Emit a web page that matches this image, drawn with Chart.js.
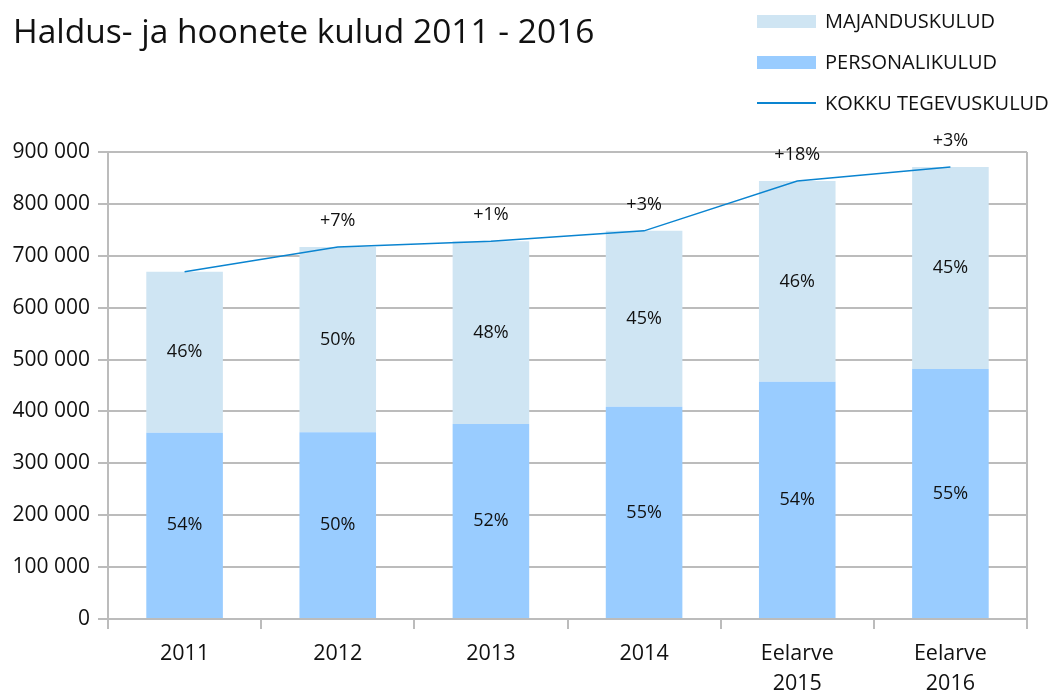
<!DOCTYPE html>
<html>
<head>
<meta charset="utf-8">
<script src="https://cdn.jsdelivr.net/npm/chart.js@4/dist/chart.umd.min.js"></script>
<style>
  html, body { margin: 0; padding: 0; background: #fff; }
  #wrap { position: relative; width: 1055px; height: 693px; font-family: "Open Sans", sans-serif; color: #111; }
  #title { position: absolute; left: 13px; top: 8px; font-size: 33.5px; line-height: 44px; white-space: nowrap; }
  #legend { position: absolute; left: 757px; top: 0; }
  .li { position: absolute; left: 0; height: 30px; white-space: nowrap; }
  .sw { position: absolute; left: 0; width: 59px; }
  .lt { position: absolute; left: 68px; top: 0; font-size: 20px; line-height: 30px; }
  canvas { position: absolute; left: 0; top: 0; }
</style>
</head>
<body>
<div id="wrap">
  <canvas id="c" width="1055" height="693"></canvas>
  <div id="title">Haldus- ja hoonete kulud 2011 - 2016</div>
  <div id="legend">
    <div class="li" style="top:6px"><div class="sw" style="top:9px;height:13px;background:#cfe5f3"></div><div class="lt">MAJANDUSKULUD</div></div>
    <div class="li" style="top:47px"><div class="sw" style="top:9px;height:13px;background:#99ccff"></div><div class="lt">PERSONALIKULUD</div></div>
    <div class="li" style="top:88px"><div class="sw" style="top:14px;height:2px;background:#0a84d0"></div><div class="lt">KOKKU TEGEVUSKULUD</div></div>
  </div>
</div>
<script>
const categories = [["2011"], ["2012"], ["2013"], ["2014"], ["Eelarve", "2015"], ["Eelarve", "2016"]];
const personalikulud = [359000, 360000, 376000, 409000, 457000, 482000];
const majanduskulud = [310000, 357000, 352000, 339000, 387000, 389000];
const kokku = [669000, 717000, 728000, 748000, 844000, 871000];
const personalPct = ["54%", "50%", "52%", "55%", "54%", "55%"];
const majandusPct = ["46%", "50%", "48%", "45%", "46%", "45%"];
const growthLabels = ["", "+7%", "+1%", "+3%", "+18%", "+3%"];
const yTicks = [0, 100000, 200000, 300000, 400000, 500000, 600000, 700000, 800000, 900000];

const FONT = '"Open Sans", sans-serif';
const GRID = '#bcbcbc';

const labelPlugin = {
  id: 'labels',
  afterDatasetsDraw(chart) {
    const ctx = chart.ctx;
    ctx.save();
    ctx.fillStyle = '#111';
    ctx.font = '18px ' + FONT;
    ctx.textAlign = 'center';
    ctx.textBaseline = 'middle';
    const drawBar = (dsIndex, labels) => {
      chart.getDatasetMeta(dsIndex).data.forEach((el, i) => {
        const p = el.getProps(['x', 'y', 'base'], true);
        ctx.fillText(labels[i], p.x, (p.y + p.base) / 2);
      });
    };
    drawBar(0, personalPct);
    drawBar(1, majandusPct);
    chart.getDatasetMeta(2).data.forEach((el, i) => {
      if (!growthLabels[i]) return;
      const p = el.getProps(['x', 'y'], true);
      ctx.fillText(growthLabels[i], p.x, p.y - 26);
    });
    ctx.restore();
  },
  beforeDatasetsDraw(chart) {
    const { ctx, chartArea } = chart;
    ctx.save();
    ctx.strokeStyle = GRID;
    ctx.lineWidth = 2;
    ctx.beginPath();
    ctx.moveTo(chartArea.right, chartArea.top);
    ctx.lineTo(chartArea.right, chartArea.bottom);
    ctx.stroke();
    ctx.restore();
  }
};

new Chart(document.getElementById('c'), {
  type: 'bar',
  data: {
    labels: categories,
    datasets: [
      { label: 'PERSONALIKULUD', data: personalikulud, backgroundColor: '#99ccff', order: 1, stack: 'bars', barPercentage: 0.5, categoryPercentage: 1 },
      { label: 'MAJANDUSKULUD', data: majanduskulud, backgroundColor: '#cfe5f3', order: 1, stack: 'bars', barPercentage: 0.5, categoryPercentage: 1 },
      { type: 'line', label: 'KOKKU TEGEVUSKULUD', data: kokku, borderColor: '#0a84d0', borderWidth: 1.5, pointRadius: 0, tension: 0, fill: false, order: 0, stack: 'line' }
    ]
  },
  options: {
    responsive: false,
    animation: false,
    layout: { padding: { top: 152, right: 28, left: 0, bottom: 0 } },
    plugins: { legend: { display: false }, title: { display: false }, tooltip: { enabled: false } },
    scales: {
      x: {
        stacked: true,
        offset: true,
        grid: { offset: true, drawOnChartArea: false, drawTicks: true, tickLength: 10, color: GRID, lineWidth: 2 },
        border: { display: true, color: GRID, width: 2 },
        ticks: { color: '#111', font: { family: FONT, size: 21.5, lineHeight: 1.38 }, padding: 10, maxRotation: 0, autoSkip: false },
        afterFit(scale) { scale.height = 74; }
      },
      y: {
        stacked: true,
        min: 0,
        max: 900000,
        afterBuildTicks(scale) { scale.ticks = yTicks.map(v => ({ value: v })); },
        grid: { color: GRID, lineWidth: 2, drawTicks: true, tickLength: 10 },
        border: { display: true, color: GRID, width: 2 },
        ticks: {
          color: '#111', font: { family: FONT, size: 21 }, padding: 8,
          callback: v => String(v).replace(/\B(?=(\d{3})+(?!\d))/g, ' ')
        },
        afterFit(scale) { scale.width = 108; }
      }
    }
  },
  plugins: [labelPlugin]
});
</script>
</body>
</html>
